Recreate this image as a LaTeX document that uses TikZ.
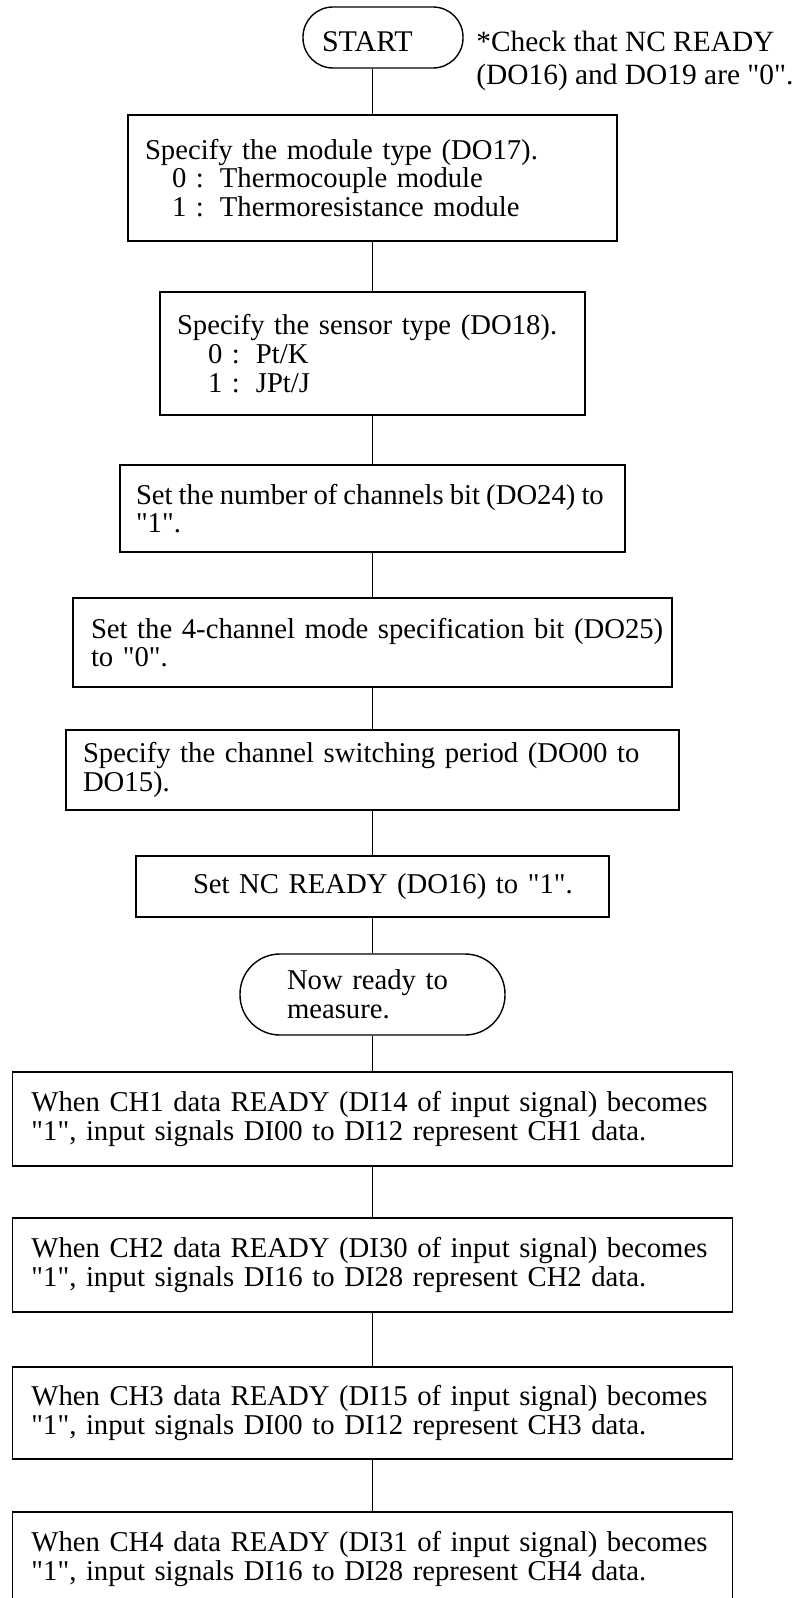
\documentclass[tikz,border=0pt]{standalone}
\usepackage{fontspec}
\setmainfont{Liberation Serif}
\newcommand{\qt}[1]{\textquotedbl #1\textquotedbl}

\begin{document}
\begin{tikzpicture}[x=0.5pt, y=-0.5pt,
  font=\fontsize{14.35pt}{14.4pt}\selectfont,
  stepbox/.style={draw, rectangle, line width=0.7pt, align=left, inner ysep=0pt, inner xsep=#1},
  stepbox/.default=8.5pt,
  endbox/.style={draw, rectangle, line width=0.7pt, align=left, inner ysep=0pt, rounded corners=#1},
  link/.style={line width=0.7pt}]
\useasboundingbox (0,0) rectangle (802,1598);
\node[endbox=15pt, inner xsep=9.5pt, text width=61pt, minimum height=30.5pt, text height=14.2pt, text depth=0pt,
  font=\fontsize{15pt}{14.4pt}\selectfont] (start) at (383,37.5) {START};
\node[anchor=base west, inner sep=0pt, align=left, font=\fontsize{14.7pt}{14.4pt}\selectfont] (note) at (476,84.5)
  {*Check that NC READY\\[1.85pt](DO16) and DO19 are \qt{0}.};
\node[stepbox, text width=227.5pt, minimum height=63pt] (module) at (372.5,178)
  {Specify the module type (DO17).\\\hspace*{13.5pt}0 :\hspace{8pt}Thermocouple module\\\hspace*{13.5pt}1 :\hspace{8pt}Thermoresistance module};
\node[stepbox, text width=195.5pt, minimum height=61.5pt] (sensor) at (372.5,353.5)
  {Specify the sensor type (DO18).\\\hspace*{15.5pt}0 :\hspace{8pt}Pt/K\\\hspace*{15.5pt}1 :\hspace{8pt}JPt/J};
\node[stepbox=8pt, text width=236.5pt, minimum height=43.5pt] (chbit) at (372.5,508.5)
  {\mbox{\spaceskip=0.21em Set the number of channels bit (DO24) to}\\\qt{1}.};
\node[stepbox=9pt, text width=281.5pt, minimum height=44.5pt] (mode) at (372.5,642.5)
  {\mbox{Set the 4-channel mode specification bit (DO25)}\\to \qt{0}.};
\node[stepbox, text width=289.5pt, minimum height=40pt] (period) at (372.5,770)
  {\mbox{Specify the channel switching period (DO00 to}\\DO15).};
\node[stepbox=28.5pt, text width=179.5pt, minimum height=30.5pt] (ncready) at (372.5,886.5)
  {\mbox{Set NC READY (DO16) to \qt{1}.}};
\node[endbox=20pt, inner xsep=23.5pt, text width=85.5pt, minimum height=40.5pt] (measure) at (372.5,994.5)
  {Now ready to\\measure.};
% data channels
\foreach \chn/\ypos/\hgt/\rdy/\lo/\hi in {1/1119/47pt/DI14/DI00/DI12, 2/1265/47pt/DI30/DI16/DI28,
    3/1413/46pt/DI15/DI00/DI12, 4/1559/47pt/DI31/DI16/DI28}
  \node[stepbox=9.5pt, text width=341pt, minimum height=\hgt] (ch\chn) at (372.5,\ypos)
    {\mbox{When CH\chn\ data READY (\rdy\ of input signal) becomes}\\\mbox{\qt{1}, input signals \lo\ to \hi\ represent CH\chn\ data.}};
\draw[link] (start.south -| module.north) -- (module.north);
\foreach \a/\b in {module/sensor, sensor/chbit, chbit/mode, mode/period, period/ncready,
    ncready/measure, measure/ch1, ch1/ch2, ch2/ch3, ch3/ch4}
  \draw[link] (\a) -- (\b);
\end{tikzpicture}
\end{document}
